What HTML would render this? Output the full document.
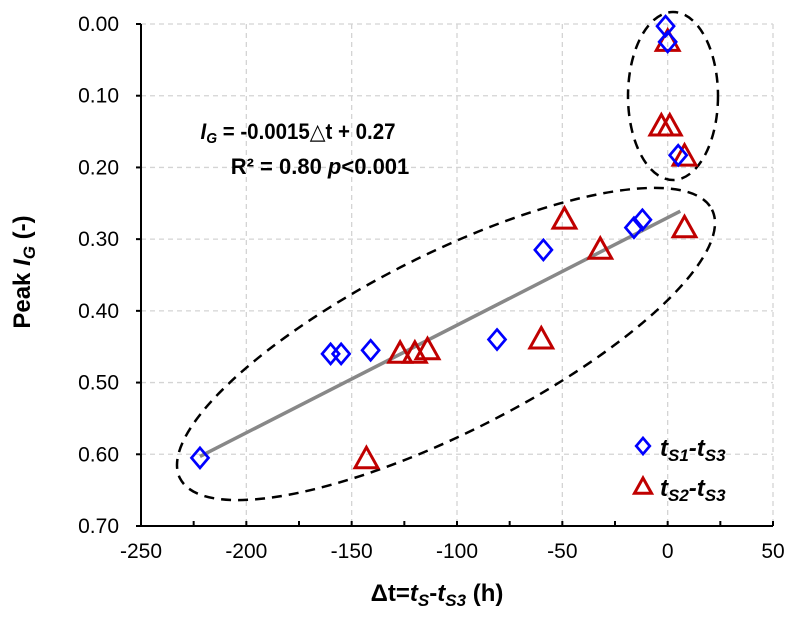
<!DOCTYPE html>
<html><head><meta charset="utf-8"><style>
html,body{margin:0;padding:0;background:#fff;}
svg{display:block;font-family:"Liberation Sans",Arial,sans-serif;}
</style></head><body>
<svg id="chart" width="794" height="618" viewBox="0 0 794 618"></svg>
<script>
const xTicks=[-250,-200,-150,-100,-50,0,50];
const yTicks=[0,0.1,0.2,0.3,0.4,0.5,0.6,0.7];
const yTickLabels=["0.00","0.10","0.20","0.30","0.40","0.50","0.60","0.70"];
const s1X=[-1,0,5,-59,-16,-12,-160,-155,-141,-81,-222];
const s1Y=[0.003,0.025,0.183,0.315,0.284,0.273,0.46,0.46,0.455,0.44,0.605];
const s2X=[0,-3,1,8,-49,-32,8,-60,-127,-120,-114,-143];
const s2Y=[0.025,0.143,0.143,0.185,0.273,0.315,0.285,0.44,0.46,0.46,0.455,0.607];
const fitSlope=-0.0015, fitIntercept=0.27, fitRange=[-222,6];

const NS="http://www.w3.org/2000/svg";
const svg=document.getElementById('chart');
const X0=141,X1=773,Y0=24,Y1=526;
function xs(v){return X0+(v+250)/300*(X1-X0);}
function ys(v){return Y0+v/0.7*(Y1-Y0);}
function mk(tag,attrs,parent){const e=document.createElementNS(NS,tag);for(const k in attrs)e.setAttribute(k,attrs[k]);(parent||svg).appendChild(e);return e;}

xTicks.forEach(t=>{if(t===-250)return;
 const g=mk('line',{x1:xs(t),x2:xs(t),y1:Y0,y2:Y1,stroke:'#d4d4d4','stroke-width':1.3,'stroke-dasharray':'5,4'});
 
 
});
yTicks.forEach(t=>{if(t===0.7)return;
 const g=mk('line',{x1:X0,x2:X1,y1:ys(t),y2:ys(t),stroke:'#d4d4d4','stroke-width':1.3,'stroke-dasharray':'5,4'});
 
 
});
const ax=mk('line',{x1:X0,x2:X1,y1:Y1,y2:Y1,stroke:'#000','stroke-width':2});


const ay=mk('line',{x1:X0,x2:X0,y1:Y0,y2:Y1+1,stroke:'#000','stroke-width':2});


for(let t=-225;t<=50;t+=25){
 const tk=mk('line',{x1:xs(t),x2:xs(t),y1:Y1,y2:Y1-5,stroke:'#000','stroke-width':2});
 
 
}
yTicks.forEach((t,i)=>{
 const tk=mk('line',{x1:X0-5,x2:X0,y1:ys(t),y2:ys(t),stroke:'#000','stroke-width':2});
 
 
 const l=mk('text',{x:119,y:ys(t)+7,'text-anchor':'end','font-size':21,fill:'#000'});
 l.textContent=yTickLabels[i];
 
 
});
xTicks.forEach(t=>{
 const l=mk('text',{x:xs(t),y:558,'text-anchor':'middle','font-size':21,fill:'#000'});
 l.textContent=String(t);
 
 
});
const e1=mk('ellipse',{cx:673,cy:96,rx:45,ry:84,fill:'none',stroke:'#000','stroke-width':2.5,'stroke-dasharray':'10,7'});


const e2=mk('ellipse',{cx:446,cy:344,rx:298,ry:89,fill:'none',stroke:'#000','stroke-width':2.5,'stroke-dasharray':'10,7',transform:'rotate(-26.8 446 344)'});


const fl=mk('line',{x1:xs(fitRange[0]),y1:ys(fitIntercept+fitSlope*fitRange[0]),x2:xs(fitRange[1]),y2:ys(fitIntercept+fitSlope*fitRange[1]),stroke:'#888','stroke-width':3.5});


function diamond(cx,cy,s){return `${cx},${cy-s} ${cx+s*0.85},${cy} ${cx},${cy+s} ${cx-s*0.85},${cy}`;}
function tri(cx,cy,s){return `${cx},${cy-s} ${cx+s*0.95},${cy+s*0.7} ${cx-s*0.95},${cy+s*0.7}`;}
s2X.forEach((v,i)=>{
 const p=mk('polygon',{points:tri(xs(v),ys(s2Y[i]),12),fill:'none',stroke:'#c00000','stroke-width':3});
 
 
});
s1X.forEach((v,i)=>{
 const p=mk('polygon',{points:diamond(xs(v),ys(s1Y[i]),10),fill:'none',stroke:'#0000ff','stroke-width':2.7});
 
 
});
const lg=mk('g',{});


const ld=mk('polygon',{points:diamond(643,446,8),fill:'none',stroke:'#0000ff','stroke-width':2.7},lg);


const lt=mk('polygon',{points:tri(643,487,9),fill:'none',stroke:'#c00000','stroke-width':3},lg);


</script>
<svg width="794" height="618" style="position:absolute;left:0;top:0;font-family:'Liberation Sans',Arial,sans-serif">
<text x="660" y="456" font-size="24" font-weight="bold" font-style="italic">t<tspan font-size="17" dy="5">S1</tspan><tspan dy="-5">-t</tspan><tspan font-size="17" dy="5">S3</tspan></text>
<text x="660" y="496" font-size="24" font-weight="bold" font-style="italic">t<tspan font-size="17" dy="5">S2</tspan><tspan dy="-5">-t</tspan><tspan font-size="17" dy="5">S3</tspan></text>
<text x="298" y="139" text-anchor="middle" font-size="22" font-weight="bold" textLength="195" lengthAdjust="spacingAndGlyphs"><tspan font-style="italic">I</tspan><tspan font-size="15" font-style="italic" dy="4">G</tspan><tspan dy="-4"> = -0.0015</tspan><tspan font-weight="normal">△</tspan>t + 0.27</text>
<text x="320" y="174" text-anchor="middle" font-size="22" font-weight="bold">R² = 0.80  <tspan font-style="italic">p</tspan>&lt;0.001</text>
<text x="437" y="601" text-anchor="middle" font-size="24" font-weight="bold">Δt=<tspan font-style="italic">t</tspan><tspan font-style="italic" font-size="17" dy="5">S</tspan><tspan dy="-5">-</tspan><tspan font-style="italic">t</tspan><tspan font-style="italic" font-size="17" dy="5">S3</tspan><tspan dy="-5"> (h)</tspan></text>
<text transform="translate(30 272) rotate(-90)" text-anchor="middle" font-size="24" font-weight="bold">Peak <tspan font-style="italic">I</tspan><tspan font-style="italic" font-size="17" dy="5">G</tspan><tspan dy="-5"> (-)</tspan></text>
</svg>
</body></html>
